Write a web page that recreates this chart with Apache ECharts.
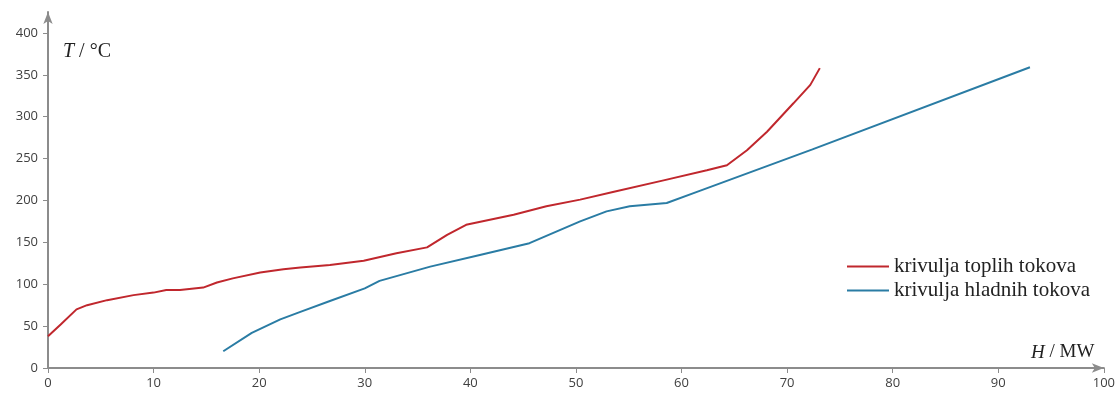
<!DOCTYPE html>
<html>
<head>
<meta charset="utf-8">
<script src="https://cdn.jsdelivr.net/npm/echarts@6/dist/echarts.min.js"></script>
<style>
html,body{margin:0;padding:0;background:#fff;}
#c{width:1118px;height:394px;}
</style>
</head>
<body>
<div id="c"></div>
<script>
// Hot composite curve (H in MW, T in °C)
const hotH = [0, 1.2, 2.7, 3.7, 5.6, 8.1, 10, 11.2, 12.5, 14.7, 16, 17.5, 20.1, 22.3, 23.9, 26.7, 29.9, 33, 35.9, 37.8, 39.6, 44.1, 47.2, 50.4, 53.5, 58.3, 62.4, 64.3, 66.2, 68.1, 70.6, 72.2, 73.1];
const hotT = [38, 52, 70, 75, 81, 87, 90, 93, 93, 96, 102, 107, 114, 118, 120, 123, 128, 137, 144, 159, 171, 183, 193, 201, 210, 224, 236, 242, 260, 282, 316, 338, 358];
// Cold composite curve
const coldH = [16.6, 19.3, 22, 23.9, 26.7, 30, 31.4, 36.2, 40.9, 45.6, 50.4, 52.9, 55.1, 58.6, 61.4, 72.4, 93];
const coldT = [20, 42, 58, 67, 80, 95, 104, 121, 135, 149, 175, 187, 193, 197, 210, 261, 359];
const xTicks = [0, 10, 20, 30, 40, 50, 60, 70, 80, 90, 100];
const yTicks = [0, 50, 100, 150, 200, 250, 300, 350, 400];
const seriesNames = ['krivulja toplih tokova', 'krivulja hladnih tokova'];

const hot = hotH.map((h, i) => [h, hotT[i]]);
const cold = coldH.map((h, i) => [h, coldT[i]]);

const chart = echarts.init(document.getElementById('c'), null, {renderer: 'canvas'});
const axisCol = '#8c8c8c';
const lblStyle = {color: '#404040', fontFamily: 'Open Sans', fontSize: 13};
const rich = (s) => ({
  i: {fontFamily: 'Liberation Serif', fontStyle: 'italic', fontSize: s, fill: '#222'},
  n: {fontFamily: 'Liberation Serif', fontSize: s, fill: '#222'}
});
chart.setOption({
  animation: false,
  backgroundColor: '#fff',
  grid: {left: 48, right: 14, top: 12, bottom: 26, containLabel: false},
  xAxis: {
    type: 'value', min: 0, max: 100, interval: 10,
    axisLine: {show: true, lineStyle: {color: axisCol, width: 2}, symbol: ['none', 'arrow'], symbolSize: [7, 12]},
    axisTick: {show: true, length: 5, lineStyle: {color: axisCol, width: 1}},
    axisLabel: Object.assign({margin: 9, customValues: xTicks}, lblStyle),
    splitLine: {show: false}
  },
  yAxis: {
    type: 'value', min: 0, max: 425, interval: 25,
    axisLine: {show: true, lineStyle: {color: axisCol, width: 2}, symbol: ['none', 'arrow'], symbolSize: [7, 12]},
    axisTick: {show: true, length: 5, lineStyle: {color: axisCol, width: 1}, customValues: yTicks},
    axisLabel: Object.assign({margin: 10, customValues: yTicks}, lblStyle),
    splitLine: {show: false}
  },
  legend: {
    orient: 'vertical', left: 842, top: 251, itemGap: 3,
    itemWidth: 42, itemHeight: 2, icon: 'rect',
    textStyle: {fontFamily: 'Liberation Serif', fontSize: 21, color: '#222'},
    data: seriesNames
  },
  series: [
    {name: seriesNames[0], type: 'line', data: hot, showSymbol: false, smooth: false,
     lineStyle: {color: '#c0272d', width: 2}, itemStyle: {color: '#c0272d'}},
    {name: seriesNames[1], type: 'line', data: cold, showSymbol: false, smooth: false,
     lineStyle: {color: '#2a7ca4', width: 2}, itemStyle: {color: '#2a7ca4'}}
  ],
  graphic: [
    {type: 'text', left: 63, top: 42, style: {rich: rich(20), text: '{i|T}{n| / °C}'}},
    {type: 'text', left: 1031, top: 343, style: {rich: rich(19), text: '{i|H}{n| / MW}'}}
  ]
});
</script>
</body>
</html>
